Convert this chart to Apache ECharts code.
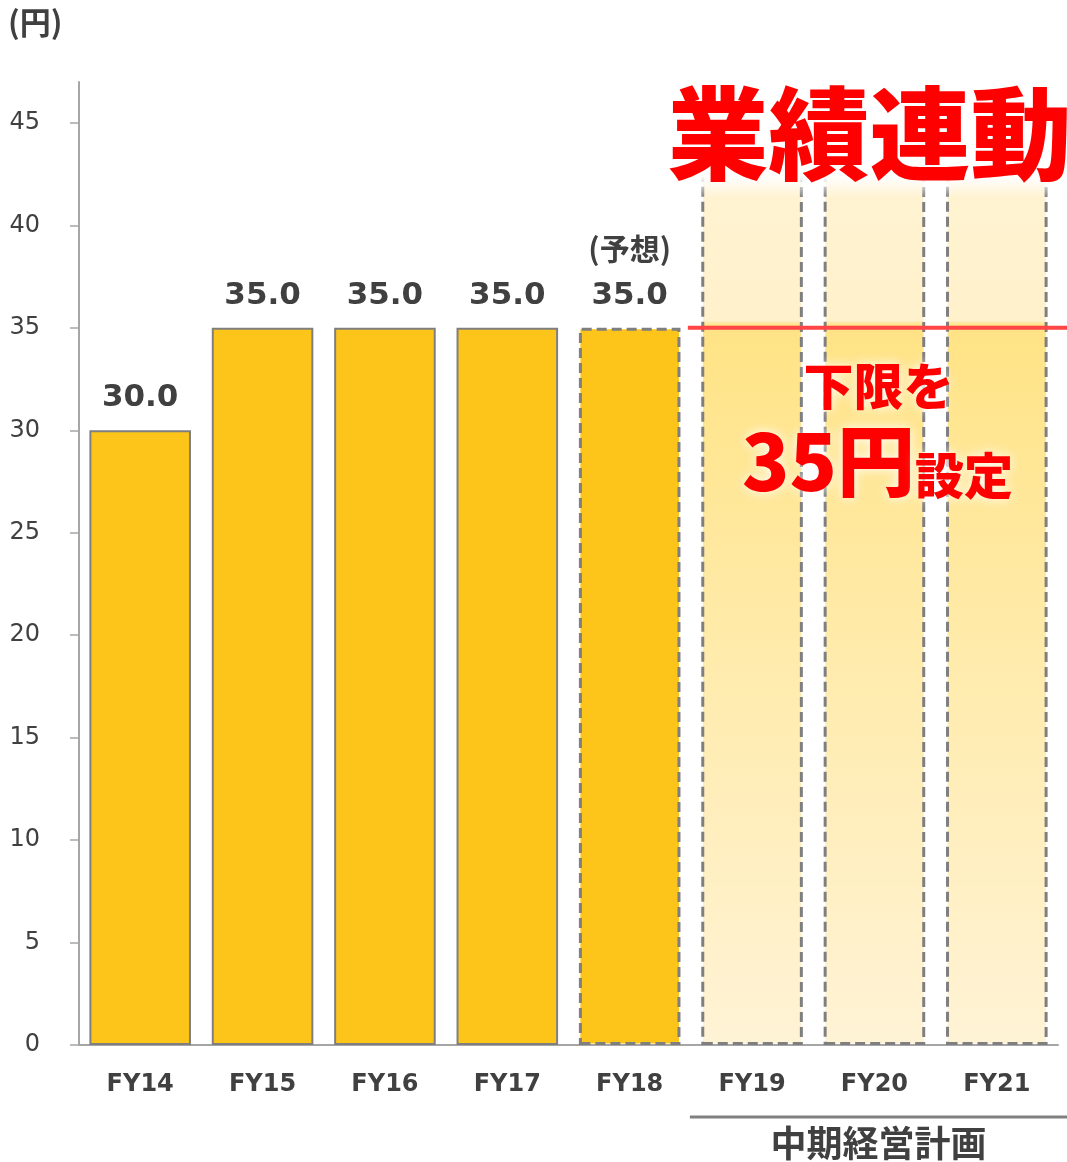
<!DOCTYPE html>
<html><head><meta charset="utf-8">
<script src="https://cdn.jsdelivr.net/npm/echarts@6/dist/echarts.min.js"></script>
<style>html,body{margin:0;padding:0;background:#fff}#c{width:1067px;height:1162px}</style>
</head><body><div id="c"></div>
<script>
const categories = ['FY14','FY15','FY16','FY17','FY18','FY19','FY20','FY21'];
const dividends = [30.0, 35.0, 35.0, 35.0, 35.0, null, null, null];
const planBand = [null, null, null, null, null, 42.6, 42.6, 42.6];
const floorValue = 35;
const yTicks = [0,5,10,15,20,25,30,35,40,45];
const unitLabel = '(円)';
const forecastNote = '(予想)';
const planLabel = '中期経営計画';
const headline = '業績連動';

const chart = echarts.init(document.getElementById('c'));
const JP = '"Noto Sans CJK JP","Noto Sans",sans-serif';
const NUM = '"DejaVu Sans",Verdana,sans-serif';
const gold = '#FDC519';
const border = '#7F7F7F';
const textC = '#404040';

const mainData = dividends.map((v,i)=>{
  if (v===null) return {value:'-'};
  const dashed = i===4;
  return {value:v, itemStyle:{color:gold, borderColor:border, borderWidth: dashed?3:2, borderType: dashed?[10,5]:'solid'}};
});
const bandData = planBand.map(v=>{
  if (v===null) return {value:'-'};
  return {value:v, itemStyle:{
    color:new echarts.graphic.LinearGradient(0,0,0,1,[
      {offset:0,color:'#FFF3D2'},
      {offset:0.17,color:'#FFF1CB'},
      {offset:0.175,color:'#FFE385'},
      {offset:0.5,color:'#FFEAA6'},
      {offset:1,color:'#FFF3D6'}]),
    borderColor:border, borderWidth:3, borderType:[10,5]}};
});

chart.setOption({
  animation:false,
  grid:{left:79,right:9,top:82,bottom:117},
  xAxis:{type:'category',data:categories,
    axisLine:{lineStyle:{color:'#A6A6A6',width:2}},
    axisTick:{inside:true,length:8,lineStyle:{color:'#A6A6A6',width:1.5}},
    axisLabel:{margin:28,fontFamily:NUM,fontWeight:'bold',fontSize:24,color:textC}},
  yAxis:{type:'value',min:0,max:47,interval:5,
    splitLine:{show:false},
    axisLine:{show:true,lineStyle:{color:'#A6A6A6',width:2}},
    axisTick:{show:true,length:9,lineStyle:{color:'#A6A6A6',width:1.5},customValues:yTicks},
    axisLabel:{margin:39,fontFamily:NUM,fontSize:24,color:textC,customValues:yTicks}},
  series:[
    {type:'bar',data:mainData,barWidth:'83%',barGap:'-100%',z:3,
      label:{show:true,position:'top',distance:14,
        formatter:p=>p.dataIndex===4?'{n|'+forecastNote+'}\n{v|'+p.value.toFixed(1)+'}':'{v|'+p.value.toFixed(1)+'}',
        rich:{v:{fontFamily:NUM,fontWeight:'bold',fontSize:31,color:textC,lineHeight:36},
              n:{fontFamily:JP,fontWeight:'bold',fontSize:30,color:textC,lineHeight:58}}}},
    {type:'bar',data:bandData,barWidth:'83%',barGap:'-100%',z:2}
  ]
});

const y35 = chart.convertToPixel({yAxisIndex:0}, floorValue);
const x18 = chart.convertToPixel({xAxisIndex:0}, 'FY18');
const x19 = chart.convertToPixel({xAxisIndex:0}, 'FY19');
const x20 = chart.convertToPixel({xAxisIndex:0}, 'FY20');
const xStart = (x18 + x19)/2 - 3;

chart.setOption({graphic:[
  {type:'rect',z:50,shape:{x:xStart+4,y:150,width:1067-xStart,height:48},
    style:{fill:new echarts.graphic.LinearGradient(0,0,0,1,[{offset:0,color:'rgba(255,255,255,1)'},{offset:0.55,color:'rgba(255,255,255,0.95)'},{offset:1,color:'rgba(255,255,255,0)'}])}},
  {type:'line',z:60,shape:{x1:xStart,y1:y35,x2:1067,y2:y35},style:{stroke:'#FF4545',lineWidth:4}},
  {type:'text',z:70,x:x20-5,y:134,style:{text:headline,fontFamily:JP,fontWeight:900,fontSize:101,fill:'#FF0000',
     align:'center',verticalAlign:'middle',textShadowColor:'rgba(255,255,255,1)',textShadowBlur:14}},
  {type:'text',z:70,x:x20+4,y:386,style:{text:'下限を',fontFamily:JP,fontWeight:900,fontSize:50,fill:'#FF0000',
     align:'center',verticalAlign:'middle',textShadowColor:'#FFFFFF',textShadowBlur:12}},
  {type:'text',z:70,x:x20+3,y:460,style:{
     text:'{a|35円}{b|設定}',align:'center',verticalAlign:'middle',
     rich:{a:{fontFamily:JP,fontWeight:900,fontSize:78,fill:'#FF0000',textShadowColor:'#FFFFFF',textShadowBlur:12,verticalAlign:'bottom',lineHeight:80},
           b:{fontFamily:JP,fontWeight:900,fontSize:49,fill:'#FF0000',textShadowColor:'#FFFFFF',textShadowBlur:12,verticalAlign:'bottom',lineHeight:60}}}},
  {type:'text',z:70,x:8,y:22,style:{text:unitLabel,fontFamily:JP,fontWeight:'bold',fontSize:31,fill:textC,verticalAlign:'middle'}},
  {type:'line',z:60,shape:{x1:xStart+2,y1:1117,x2:1067,y2:1117},style:{stroke:'#808080',lineWidth:3}},
  {type:'text',z:70,x:x20+4,y:1143,style:{text:planLabel,fontFamily:JP,fontWeight:'bold',fontSize:36,fill:textC,align:'center',verticalAlign:'middle'}}
]});
</script></body></html>
